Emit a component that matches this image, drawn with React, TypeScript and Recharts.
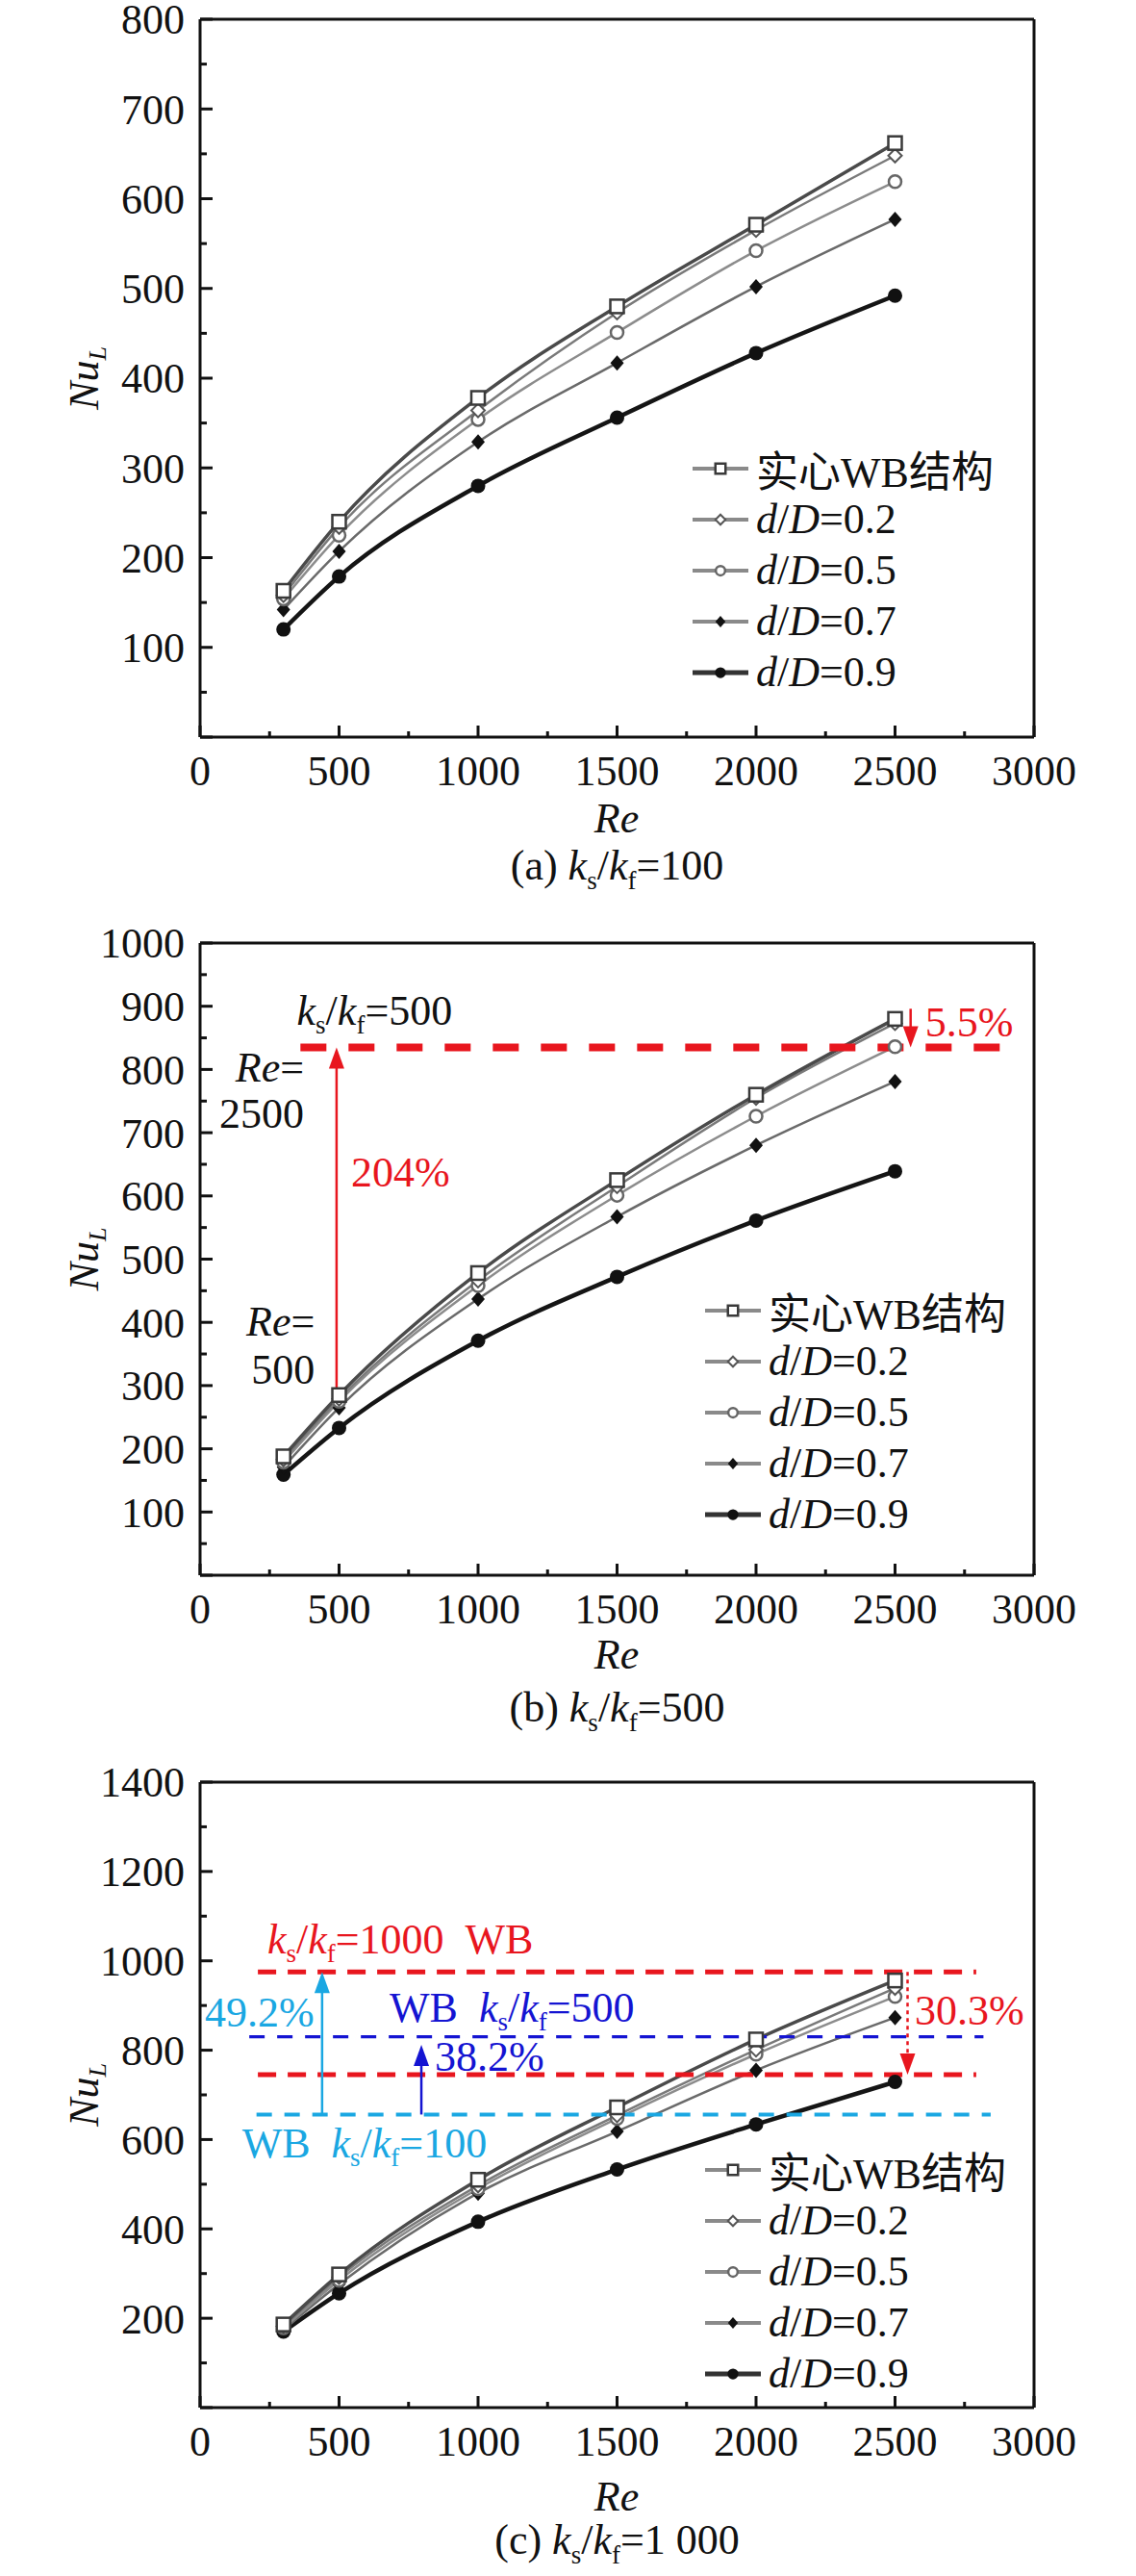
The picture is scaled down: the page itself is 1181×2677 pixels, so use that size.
import React from 'react';
import { LineChart, Line, XAxis, YAxis, ReferenceLine, ReferenceDot } from 'recharts';

// Re values shared by every panel
const RE = [300, 500, 1000, 1500, 2000, 2500];

// (a) ks/kf = 100
const A_SOLID = [163, 240, 378, 480, 571, 662];
const A_D02 = [158, 234, 364, 473, 565, 648];
const A_D05 = [154, 225, 354, 451, 542, 619];
const A_D07 = [142, 207, 329, 417, 502, 577];
const A_D09 = [120, 179, 280, 356, 428, 492];

// (b) ks/kf = 500
const B_SOLID = [188, 285, 478, 625, 760, 880];
const B_D02 = [183, 279, 466, 615, 755, 873];
const B_D05 = [179, 275, 458, 601, 726, 836];
const B_D07 = [171, 265, 437, 567, 680, 781];
const B_D09 = [159, 233, 371, 472, 561, 639];

// (c) ks/kf = 1000
const C_SOLID = [186, 298, 510, 672, 824, 956];
const C_D02 = [182, 292, 497, 654, 801, 939];
const C_D05 = [178, 285, 490, 647, 791, 920];
const C_D07 = [174, 276, 480, 618, 755, 873];
const C_D09 = [170, 256, 416, 533, 634, 729];

const NAMES = ['实心WB结构', 'd/D=0.2', 'd/D=0.5', 'd/D=0.7', 'd/D=0.9'];

const X_TICKS = [0, 250, 500, 750, 1000, 1250, 1500, 1750, 2000, 2250, 2500, 2750, 3000];
const A_Y_TICKS = [0, 50, 100, 150, 200, 250, 300, 350, 400, 450, 500, 550, 600, 650, 700, 750, 800];
const B_Y_TICKS = [0, 50, 100, 150, 200, 250, 300, 350, 400, 450, 500, 550, 600, 650, 700, 750, 800, 850, 900, 950, 1000];
const C_Y_TICKS = [0, 100, 200, 300, 400, 500, 600, 700, 800, 900, 1000, 1100, 1200, 1300, 1400];

// annotation levels in (b)
const B_LEVEL = 835;
const B_LEVEL_FROM = 361;
const B_LEVEL_TO = 2882;
const B_RISE_X = 491;
const B_RISE_FROM = 290;
const B_DROP_X = 2556;
const B_DROP_FROM = 896;

// annotation levels in (c)
const C_RED_TOP = 975;
const C_BLUE = 830;
const C_RED_LOW = 745;
const C_CYAN = 656;
const C_CYAN_X = 439;
const C_BLUE_X = 796;
const C_BLUE_TIP = 812;
const C_DROP_X = 2545;

const INK = '#111';
const RED = '#e8161e';
const BLUE = '#1414d2';
const CYAN = '#1aa7e2';
const SERIF = "'Liberation Serif', 'Times New Roman', Times, 'DejaVu Serif', serif, 'Noto Sans CJK SC'";
const FS = 44;

const STYLES = [
  { stroke: '#4a4a4a', width: 3.5, marker: 'square', legend: '#8a8a8a', legendWidth: 4 },
  { stroke: '#7a7a7a', width: 2.5, marker: 'diamondOpen', legend: '#8a8a8a', legendWidth: 4 },
  { stroke: '#8c8c8c', width: 2.5, marker: 'circleOpen', legend: '#8a8a8a', legendWidth: 4 },
  { stroke: '#6a6a6a', width: 2.5, marker: 'diamondFill', legend: '#8a8a8a', legendWidth: 4 },
  { stroke: '#151515', width: 4.5, marker: 'circleFill', legend: '#333', legendWidth: 5 },
];

function marker(kind: string, cx: number, cy: number, s = 1, key?: any) {
  switch (kind) {
    case 'square':
      return <rect key={key} x={cx - 7 * s} y={cy - 7 * s} width={14 * s} height={14 * s} fill="#fff" stroke="#3a3a3a" strokeWidth={2.5} />;
    case 'diamondOpen':
      return <path key={key} d={`M${cx},${cy - 7 * s}L${cx + 7 * s},${cy}L${cx},${cy + 7 * s}L${cx - 7 * s},${cy}Z`} fill="#fff" stroke="#555" strokeWidth={2} />;
    case 'circleOpen':
      return <circle key={key} cx={cx} cy={cy} r={6.5 * s} fill="#fff" stroke="#666" strokeWidth={2.5} />;
    case 'diamondFill':
      return <path key={key} d={`M${cx},${cy - 8 * s}L${cx + 7 * s},${cy}L${cx},${cy + 8 * s}L${cx - 7 * s},${cy}Z`} fill={INK} />;
    default:
      return <circle key={key} cx={cx} cy={cy} r={7.5 * s} fill={INK} />;
  }
}

function legendName(name: string) {
  if (name.startsWith('d/D')) {
    return (
      <>
        <i>d</i>/<i>D</i>
        {name.slice(3)}
      </>
    );
  }
  return name;
}

const XTick = (p: any) => {
  const v = p.payload.value;
  const major = v % 500 === 0;
  return (
    <g>
      <line x1={p.x} x2={p.x} y1={p.y} y2={p.y - (major ? 12 : 6)} stroke={INK} strokeWidth={3} />
      {major && (
        <text x={p.x} y={p.y + 35} dy="0.35em" textAnchor="middle" fontSize={FS} fontFamily={SERIF} fill={INK}>
          {v}
        </text>
      )}
    </g>
  );
};

const makeYTick = (step: number) => (p: any) => {
  const v = p.payload.value;
  const major = v % step === 0;
  return (
    <g>
      <line x1={p.x} x2={p.x + (major ? 13 : 7)} y1={p.y} y2={p.y} stroke={INK} strokeWidth={3} />
      {major && v !== 0 && (
        <text x={p.x - 16} y={p.y} dy="0.35em" textAnchor="end" fontSize={FS} fontFamily={SERIF} fill={INK}>
          {v}
        </text>
      )}
    </g>
  );
};

function KsKf({ value }: { value: string }) {
  return (
    <>
      <tspan fontStyle="italic">k</tspan>
      <tspan fontSize={27} dy={9}>s</tspan>
      <tspan dy={-9}>/</tspan>
      <tspan fontStyle="italic">k</tspan>
      <tspan fontSize={27} dy={9}>f</tspan>
      <tspan dy={-9}>{value}</tspan>
    </>
  );
}

const textShape = (content: React.ReactNode, color: string, anchor = 'start') => (p: any) => (
  <text x={p.cx} y={p.cy} dy="0.35em" textAnchor={anchor} fontSize={FS} fontFamily={SERIF} fill={color}>
    {content}
  </text>
);

const headUp = (color: string) => (p: any) => (
  <path d={`M${p.cx},${p.cy}L${p.cx - 8},${p.cy + 22}L${p.cx + 8},${p.cy + 22}Z`} fill={color} />
);
const headDown = (color: string) => (p: any) => (
  <path d={`M${p.cx},${p.cy}L${p.cx - 8},${p.cy - 22}L${p.cx + 8},${p.cy - 22}Z`} fill={color} />
);

const reText = (
  <>
    <tspan fontStyle="italic">Re</tspan>=
  </>
);

function Panel(props: any) {
  const { top, height, marginTop, yMax, yTicks, yStep, values, legendLeft, legendTop, reGap, capGap, caption, extras } = props;
  const plotBottom = height - 110;
  const plotMid = (marginTop + plotBottom) / 2;
  const data = RE.map((re, i) => {
    const row: any = { re };
    values.forEach((arr: number[], k: number) => (row['s' + k] = arr[i]));
    return row;
  });
  const order = [4, 3, 2, 1, 0];
  return (
    <div style={{ position: 'absolute', left: 0, top, width: 1181, height: plotBottom + capGap + 34 }}>
      <LineChart width={1181} height={height} data={data} margin={{ top: marginTop, right: 106, bottom: 0, left: 0 }}>
        <XAxis
          dataKey="re"
          type="number"
          domain={[0, 3000]}
          ticks={X_TICKS}
          interval={0}
          tickSize={0}
          tickMargin={0}
          height={110}
          tickLine={false}
          axisLine={{ stroke: INK, strokeWidth: 3 }}
          tick={XTick}
        />
        <YAxis
          type="number"
          domain={[0, yMax]}
          ticks={yTicks}
          interval={0}
          width={208}
          tickSize={0}
          tickMargin={0}
          tickLine={false}
          axisLine={{ stroke: INK, strokeWidth: 3 }}
          tick={makeYTick(yStep)}
        />
        <ReferenceLine y={yMax} stroke={INK} strokeWidth={3} />
        <ReferenceLine x={3000} stroke={INK} strokeWidth={3} />
        {order.map((k) => (
          <Line
            key={k}
            dataKey={'s' + k}
            name={NAMES[k]}
            type="monotone"
            stroke={STYLES[k].stroke}
            strokeWidth={STYLES[k].width}
            dot={(p: any) => marker(STYLES[k].marker, p.cx, p.cy, 1, p.index)}
            isAnimationActive={false}
          />
        ))}
        {extras}
      </LineChart>
      <svg style={{ position: 'absolute', left: 0, top: 0, pointerEvents: 'none' }} width={1181} height={height}>
        <text
          x={87}
          y={plotMid}
          transform={`rotate(-90 87 ${plotMid})`}
          textAnchor="middle"
          dy="0.35em"
          fontSize={FS}
          fontFamily={SERIF}
          fontStyle="italic"
          fill={INK}
        >
          Nu
          <tspan fontSize={26} dy={8}>
            L
          </tspan>
        </text>
        <text x={641} y={plotBottom + reGap} dy="0.35em" textAnchor="middle" fontSize={FS} fontFamily={SERIF} fontStyle="italic" fill={INK}>
          Re
        </text>
      </svg>
      <div
        style={{
          position: 'absolute',
          left: legendLeft,
          top: legendTop,
          fontFamily: SERIF,
          fontSize: FS,
          color: INK,
        }}
      >
        {NAMES.map((n, k) => (
          <div key={n} style={{ display: 'flex', alignItems: 'center', height: 53, whiteSpace: 'nowrap' }}>
            <svg width={66} height={20} style={{ flex: 'none' }}>
              <line x1={0} x2={58} y1={10} y2={10} stroke={STYLES[k].legend} strokeWidth={STYLES[k].legendWidth} />
              {marker(STYLES[k].marker, 29, 10, 0.75)}
            </svg>
            <span>{legendName(n)}</span>
          </div>
        ))}
      </div>
      <div
        style={{
          position: 'absolute',
          left: 208,
          width: 867,
          top: plotBottom + capGap - 26,
          height: 52,
          lineHeight: '52px',
          textAlign: 'center',
          fontFamily: SERIF,
          fontSize: FS,
          color: INK,
          whiteSpace: 'nowrap',
        }}
      >
        {caption}
      </div>
    </div>
  );
}

function Cap({ tag, value }: { tag: string; value: string }) {
  return (
    <span>
      ({tag}) <i>k</i>
      <sub style={{ fontSize: 27, lineHeight: 0 }}>s</sub>/<i>k</i>
      <sub style={{ fontSize: 27, lineHeight: 0 }}>f</sub>={value}
    </span>
  );
}

const B_EXTRAS = [
  <ReferenceLine
    key="bl"
    segment={[{ x: B_LEVEL_FROM, y: B_LEVEL }, { x: B_LEVEL_TO, y: B_LEVEL }]}
    stroke={RED}
    strokeWidth={8}
    strokeDasharray="27 23"
  />,
  <ReferenceLine key="br" segment={[{ x: B_RISE_X, y: B_RISE_FROM }, { x: B_RISE_X, y: B_LEVEL - 25 }]} stroke={RED} strokeWidth={2.5} />,
  <ReferenceDot key="brh" x={B_RISE_X} y={B_LEVEL} shape={headUp(RED)} />,
  <ReferenceLine key="bd" segment={[{ x: B_DROP_X, y: B_DROP_FROM }, { x: B_DROP_X, y: B_LEVEL + 25 }]} stroke={RED} strokeWidth={2.5} />,
  <ReferenceDot key="bdh" x={B_DROP_X} y={B_LEVEL} shape={headDown(RED)} />,
  <ReferenceDot key="t1" x={543} y={639} shape={textShape('204%', RED)} />,
  <ReferenceDot key="t2" x={2608} y={876} shape={textShape('5.5%', RED)} />,
  <ReferenceDot key="t3" x={348} y={894} shape={textShape(<KsKf value="=500" />, INK)} />,
  <ReferenceDot key="t4" x={374} y={804} shape={textShape(reText, INK, 'end')} />,
  <ReferenceDot key="t5" x={374} y={731} shape={textShape('2500', INK, 'end')} />,
  <ReferenceDot key="t6" x={413} y={403} shape={textShape(reText, INK, 'end')} />,
  <ReferenceDot key="t7" x={413} y={326} shape={textShape('500', INK, 'end')} />,
];

const C_EXTRAS = [
  <ReferenceLine key="l1" segment={[{ x: 208, y: C_RED_TOP }, { x: 2792, y: C_RED_TOP }]} stroke={RED} strokeWidth={5} strokeDasharray="19 12" />,
  <ReferenceLine key="l2" segment={[{ x: 177, y: C_BLUE }, { x: 2818, y: C_BLUE }]} stroke={BLUE} strokeWidth={3.3} strokeDasharray="16 13" />,
  <ReferenceLine key="l3" segment={[{ x: 208, y: C_RED_LOW }, { x: 2792, y: C_RED_LOW }]} stroke={RED} strokeWidth={5} strokeDasharray="19 12" />,
  <ReferenceLine key="l4" segment={[{ x: 203, y: C_CYAN }, { x: 2844, y: C_CYAN }]} stroke={CYAN} strokeWidth={4} strokeDasharray="16 13" />,
  <ReferenceLine key="a1" segment={[{ x: C_CYAN_X, y: C_CYAN }, { x: C_CYAN_X, y: C_RED_TOP - 40 }]} stroke={CYAN} strokeWidth={2.5} />,
  <ReferenceDot key="a1h" x={C_CYAN_X} y={C_RED_TOP} shape={headUp(CYAN)} />,
  <ReferenceLine key="a2" segment={[{ x: C_BLUE_X, y: C_CYAN }, { x: C_BLUE_X, y: C_BLUE_TIP - 40 }]} stroke={BLUE} strokeWidth={2.5} />,
  <ReferenceDot key="a2h" x={C_BLUE_X} y={C_BLUE_TIP} shape={headUp(BLUE)} />,
  <ReferenceLine
    key="a3"
    segment={[{ x: C_DROP_X, y: C_RED_TOP }, { x: C_DROP_X, y: C_RED_LOW + 40 }]}
    stroke={RED}
    strokeWidth={2.5}
    strokeDasharray="4 4"
  />,
  <ReferenceDot key="a3h" x={C_DROP_X} y={C_RED_LOW} shape={headDown(RED)} />,
  <ReferenceDot key="c1" x={17} y={886} shape={textShape('49.2%', CYAN)} />,
  <ReferenceDot key="c2" x={844} y={786} shape={textShape('38.2%', BLUE)} />,
  <ReferenceDot key="c3" x={2571} y={890} shape={textShape('30.3%', RED)} />,
  <ReferenceDot
    key="c4"
    x={242}
    y={1049}
    shape={textShape(
      <>
        <KsKf value="=1000" />
        <tspan>{'\u00a0\u00a0WB'}</tspan>
      </>,
      RED
    )}
  />,
  <ReferenceDot
    key="c5"
    x={682}
    y={897}
    shape={textShape(
      <>
        <tspan>{'WB\u00a0\u00a0'}</tspan>
        <KsKf value="=500" />
      </>,
      BLUE
    )}
  />,
  <ReferenceDot
    key="c6"
    x={151}
    y={594}
    shape={textShape(
      <>
        <tspan>{'WB\u00a0\u00a0'}</tspan>
        <KsKf value="=100" />
      </>,
      CYAN
    )}
  />,
];

export default function App() {
  return (
    <div style={{ position: 'absolute', left: 0, top: 0, width: 1181, height: 2677, background: '#fff', overflow: 'hidden' }}>
      <Panel
        top={-30}
        height={906}
        marginTop={50}
        yMax={800}
        yTicks={A_Y_TICKS}
        yStep={100}
        values={[A_SOLID, A_D02, A_D05, A_D07, A_D09]}
        legendLeft={720}
        legendTop={490}
        reGap={84}
        capGap={134}
        caption={<Cap tag="a" value="100" />}
        extras={null}
      />
      <Panel
        top={900}
        height={847}
        marginTop={80}
        yMax={1000}
        yTicks={B_Y_TICKS}
        yStep={100}
        values={[B_SOLID, B_D02, B_D05, B_D07, B_D09]}
        legendLeft={733}
        legendTop={435}
        reGap={82}
        capGap={138}
        caption={<Cap tag="b" value="500" />}
        extras={B_EXTRAS}
      />
      <Panel
        top={1780}
        height={832}
        marginTop={72}
        yMax={1400}
        yTicks={C_Y_TICKS}
        yStep={200}
        values={[C_SOLID, C_D02, C_D05, C_D07, C_D09]}
        legendLeft={733}
        legendTop={448}
        reGap={92}
        capGap={138}
        caption={<Cap tag="c" value={'1\u00a0000'} />}
        extras={C_EXTRAS}
      />
    </div>
  );
}
